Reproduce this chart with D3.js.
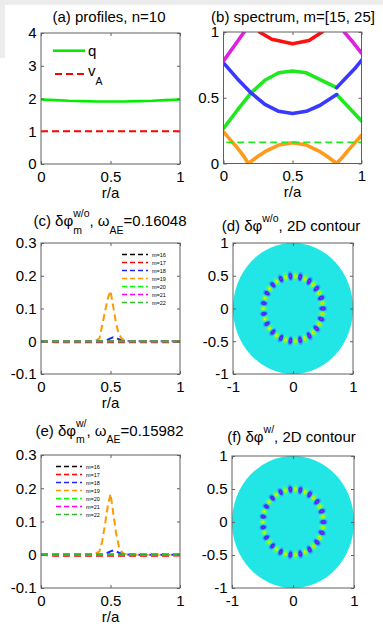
<!DOCTYPE html>
<html>
<head>
<meta charset="utf-8">
<script src="https://cdn.jsdelivr.net/npm/d3@7"></script>
<style>
  body { margin: 0; background: #fff; }
  svg { display: block; }
</style>
</head>
<body>
<div id="chart"></div>
<script>
// ---------- data ----------

// (a) profiles
const profR = [0, 0.1, 0.2, 0.3, 0.4, 0.5, 0.6, 0.7, 0.8, 0.9, 1]
const qProfile = [1.97, 1.95, 1.93, 1.92, 1.91, 1.91, 1.91, 1.92, 1.93, 1.95, 1.97]
const vaR = [0, 1]
const vaProfile = [1, 1]

// (b) continuum branches
const orangeR = [0, 0.05, 0.1, 0.15, 0.18, 0.25, 0.3, 0.4, 0.5, 0.6, 0.7, 0.75, 0.82, 0.86, 0.9, 0.95, 1]
const orangeW = [0.24, 0.18, 0.12, 0.05, 0, 0.055, 0.09, 0.14, 0.158, 0.14, 0.09, 0.055, 0, 0.045, 0.096, 0.155, 0.215]
const blueAR = [0, 0.1, 0.2, 0.3, 0.4, 0.5, 0.6, 0.7, 0.82]
const blueAW = [0.765, 0.645, 0.537, 0.45, 0.397, 0.38, 0.397, 0.443, 0.524]
const blueBR = [0.82, 0.9, 0.95, 1]
const blueBW = [0.577, 0.665, 0.72, 0.785]
const greenAR = [0, 0.1, 0.2, 0.3, 0.4, 0.5, 0.6, 0.7, 0.82]
const greenAW = [0.266, 0.405, 0.537, 0.633, 0.69, 0.704, 0.69, 0.638, 0.577]
const greenBR = [0.82, 0.9, 1]
const greenBW = [0.524, 0.435, 0.324]
const magLR = [0, 0.075, 0.15]
const magLW = [0.78, 0.89, 1.0]
const magRR = [0.875, 0.94, 1]
const magRW = [1.0, 0.92, 0.84]
const redR = [0.26, 0.35, 0.5, 0.62, 0.715]
const redW = [1.0, 0.945, 0.911, 0.935, 1.0]
const aeR = [0.02, 1]
const omegaAE = 0.16048

// (c)-(f) poloidal harmonics
const modeNums = [16, 17, 18, 19, 20, 21, 22]
const modeNames = ["m=16", "m=17", "m=18", "m=19", "m=20", "m=21", "m=22"]
const modeR = [0, 0.1, 0.2, 0.3, 0.38, 0.42, 0.44, 0.46, 0.48, 0.5, 0.52, 0.54, 0.56, 0.58, 0.6, 0.64, 0.7, 0.8, 0.9, 1]
const zeroMode = [0, 0, 0, 0, 0, 0, 0, 0, 0, 0, 0, 0, 0, 0, 0, 0, 0, 0, 0, 0]
const phi17 = [0, -0.003, -0.003, -0.003, -0.003, -0.003, -0.003, -0.003, -0.003, -0.003, -0.003, -0.003, -0.003, -0.003, -0.003, -0.003, -0.003, -0.003, -0.003, -0.002]
const phiWo18 = [0, 0, 0, 0, 0, 0, 0, 0.002, 0.005, 0.009, 0.012, 0.01, 0.006, 0.003, 0.001, 0, 0, 0, 0, 0]
const phiWo19 = [0, 0, 0, 0, 0, 0.008, 0.048, 0.09, 0.13, 0.154, 0.105, 0.055, 0.022, 0.008, 0.002, 0, 0, 0, 0, 0]
const phiW18 = [0, 0, 0, 0, 0, 0, 0, 0.002, 0.006, 0.01, 0.013, 0.011, 0.006, 0.003, 0.001, 0, 0, 0, 0, 0]
const phiW19 = [0, 0, 0, 0, 0, 0.01, 0.04, 0.09, 0.145, 0.183, 0.125, 0.065, 0.025, 0.009, 0.002, 0, 0, 0, 0, 0]
const modesWo = [zeroMode, phi17, phiWo18, phiWo19, zeroMode, zeroMode, zeroMode]
const modesW = [zeroMode, phi17, phiW18, phiW19, zeroMode, zeroMode, zeroMode]

// ---------- styles ----------
const modeColors = ["#000000", "#ff0000", "#2222ff", "#ff9900", "#00ff00", "#ff00ff", "#33b833"]
const FONT = "'Liberation Sans', Arial, Helvetica, sans-serif"
const BOX = "#606060"

const svg = d3.select("#chart").append("svg")
    .attr("width", 383).attr("height", 626)
    .style("font-family", FONT)

// light grey frame of the screenshot
svg.append("rect").attr("x", 0).attr("y", 0).attr("width", 383).attr("height", 5).attr("fill", "#ececec")
svg.append("rect").attr("x", 0).attr("y", 0).attr("width", 5).attr("height", 58).attr("fill", "#ececec")

let clipCount = 0

function makePanel(box, xDom, yDom) {
    let x = d3.scaleLinear().domain(xDom).range([box.x0, box.x1])
    let y = d3.scaleLinear().domain(yDom).range([box.y1, box.y0])
    let id = "clip" + (clipCount++)
    svg.append("clipPath").attr("id", id).append("rect")
        .attr("x", box.x0).attr("y", box.y0)
        .attr("width", box.x1 - box.x0).attr("height", box.y1 - box.y0)
    let plot = svg.append("g").attr("clip-path", "url(#" + id + ")")
    return { x: x, y: y, plot: plot, box: box }
}

function styleAxis(g) {
    g.select(".domain").remove()
    g.selectAll("line").attr("stroke", BOX)
    g.selectAll("text").attr("font-size", 15).attr("font-family", FONT).attr("fill", "#000")
    g.attr("font-family", null).attr("font-size", null)
}

function finishPanel(p, xTicks, yTicks, xLabel) {
    let b = p.box
    let fmt = function (d) { return String(d) }
    svg.append("g").attr("transform", "translate(0," + b.y1 + ")")
        .call(d3.axisBottom(p.x).tickValues(xTicks).tickSizeInner(-3).tickSizeOuter(0).tickPadding(7).tickFormat(fmt))
        .call(styleAxis)
    svg.append("g").attr("transform", "translate(0," + b.y0 + ")")
        .call(d3.axisTop(p.x).tickValues(xTicks).tickSizeInner(-3).tickSizeOuter(0).tickFormat(""))
        .call(styleAxis)
    svg.append("g").attr("transform", "translate(" + b.x0 + ",0)")
        .call(d3.axisLeft(p.y).tickValues(yTicks).tickSizeInner(-3).tickSizeOuter(0).tickPadding(4.5).tickFormat(fmt))
        .call(styleAxis)
    svg.append("g").attr("transform", "translate(" + b.x1 + ",0)")
        .call(d3.axisRight(p.y).tickValues(yTicks).tickSizeInner(-3).tickSizeOuter(0).tickFormat(""))
        .call(styleAxis)
    svg.append("rect")
        .attr("x", b.x0).attr("y", b.y0)
        .attr("width", b.x1 - b.x0).attr("height", b.y1 - b.y0)
        .attr("fill", "none").attr("stroke", BOX).attr("stroke-width", 1)
    if (xLabel) {
        svg.append("text")
            .attr("x", (b.x0 + b.x1) / 2).attr("y", b.y1 + 33.5)
            .attr("text-anchor", "middle").attr("font-size", 15)
            .text(xLabel)
    }
}

// text with TeX-like super/subscripts; a "sub" with stack:true sits under the previous "sup"
function richText(cx, yb, parts, anchorStart) {
    let g = svg.append("g")
    let xPos = 0, supX = 0, supW = 0
    parts.forEach(function (p) {
        let size = p.s ? 10.5 : 15
        let dy = p.s === "sup" ? -9 : (p.s === "sub" ? 7.5 : 0)
        let startX = (p.s === "sub" && p.stack) ? supX : xPos
        let t = g.append("text").attr("x", startX).attr("y", dy + (p.dy || 0))
            .attr("font-size", size).text(p.t)
        let w = t.node().getComputedTextLength()
        if (p.s === "sup") { supX = startX; supW = w; xPos = startX + w }
        else if (p.stack) { xPos = Math.max(supX + supW, startX + w) }
        else { xPos = startX + w }
    })
    let left = anchorStart ? cx : cx - xPos / 2
    g.attr("transform", "translate(" + left + "," + yb + ")")
    return g
}

function lineOf(p, xs, ys) {
    return d3.line()
        .x(function (d, i) { return p.x(xs[i]) })
        .y(function (d) { return p.y(d) })(ys)
}

// ---------- (a) profiles ----------
let pa = makePanel({ x0: 41, x1: 180, y0: 33, y1: 164 }, [0, 1], [0, 4])
pa.plot.append("path").attr("d", lineOf(pa, vaR, vaProfile))
    .attr("fill", "none").attr("stroke", "#ff0000").attr("stroke-width", 2).attr("stroke-dasharray", "7,4")
pa.plot.append("path").attr("d", lineOf(pa, profR, qProfile))
    .attr("fill", "none").attr("stroke", "#00ee00").attr("stroke-width", 2.6)
finishPanel(pa, [0, 0.5, 1], [0, 1, 2, 3, 4], "r/a")
richText(109, 21.5, [{ t: "(a) profiles, n=10" }])
svg.append("line").attr("x1", 53).attr("x2", 85).attr("y1", 50.7).attr("y2", 50.7)
    .attr("stroke", "#00ee00").attr("stroke-width", 2.6)
richText(88, 56, [{ t: "q" }], true)
svg.append("line").attr("x1", 55).attr("x2", 85).attr("y1", 74).attr("y2", 74)
    .attr("stroke", "#ff0000").attr("stroke-width", 2).attr("stroke-dasharray", "7,4")
richText(88, 76, [{ t: "v" }, { t: "A", s: "sub", dy: 1 }], true)

// ---------- (b) spectrum ----------
let pb = makePanel({ x0: 223.5, x1: 361.5, y0: 32, y1: 163.5 }, [0, 1], [0, 1])
const branches = [
    [orangeR, orangeW, "#ff9b1a"],
    [greenAR, greenAW, "#1ee81e"],
    [greenBR, greenBW, "#1ee81e"],
    [blueAR, blueAW, "#3838ff"],
    [blueBR, blueBW, "#3838ff"],
    [magLR, magLW, "#e020e0"],
    [magRR, magRW, "#e020e0"],
    [redR, redW, "#ff1010"]
]
branches.forEach(function (br) {
    pb.plot.append("path").attr("d", lineOf(pb, br[0], br[1]))
        .attr("fill", "none").attr("stroke", br[2]).attr("stroke-width", 3.6)
        .attr("stroke-linecap", "round").attr("stroke-linejoin", "round")
})
pb.plot.append("path").attr("d", lineOf(pb, aeR, [omegaAE, omegaAE]))
    .attr("fill", "none").attr("stroke", "#22e822").attr("stroke-width", 1.8).attr("stroke-dasharray", "7,4")
finishPanel(pb, [0, 0.5, 1], [0, 0.5, 1], "r/a")
richText(293, 21.5, [{ t: "(b) spectrum, m=[15, 25]" }])

// ---------- (c), (e) harmonics ----------
function harmonicPanel(box, modes, legendX, legendY) {
    let p = makePanel(box, [0, 1], [-0.1, 0.3])
    modes.forEach(function (vals, i) {
        p.plot.append("path").attr("d", lineOf(p, modeR, vals))
            .attr("fill", "none").attr("stroke", modeColors[i]).attr("stroke-width", 2)
            .attr("stroke-dasharray", "7,4")
    })
    finishPanel(p, [0, 0.5, 1], [-0.1, 0, 0.1, 0.2, 0.3], "r/a")
    modeNames.forEach(function (name, i) {
        let yy = legendY + i * 8
        svg.append("line").attr("x1", legendX).attr("x2", legendX + 26).attr("y1", yy).attr("y2", yy)
            .attr("stroke", modeColors[i]).attr("stroke-width", 1.4).attr("stroke-dasharray", "5,3")
        svg.append("text").attr("x", legendX + 30).attr("y", yy + 2)
            .attr("font-size", 5.5).text(name)
    })
    return p
}
harmonicPanel({ x0: 41, x1: 180, y0: 243, y1: 374 }, modesWo, 122, 254.5)
richText(110, 226, [{ t: "(c) δφ" }, { t: "w/o", s: "sup" }, { t: "m", s: "sub", stack: true },
    { t: ", ω" }, { t: "AE", s: "sub" }, { t: "=0.16048" }])
harmonicPanel({ x0: 41, x1: 180, y0: 455, y1: 588 }, modesW, 56, 466.5)
richText(109.5, 435.5, [{ t: "(e) δφ" }, { t: "w/", s: "sup" }, { t: "m", s: "sub", stack: true },
    { t: ", ω" }, { t: "AE", s: "sub" }, { t: "=0.15982" }])

// ---------- (d), (f) 2D contours ----------
const contourLevels = [0.1, 0.3, 0.5, 0.7, 0.88]
const posFill = ["#40eeb4", "#40ff50", "#88ff30", "#e4f200", "#ff9000"]
const negFill = ["#34a8ff", "#2a55ff", "#3a22f2", "#8a22e8", "#d020d8"]

function contourPanel(box, modes) {
    let p = makePanel(box, [-1, 1], [-1, 1])
    let profiles = modes.map(function (vals) {
        return d3.scaleLinear().domain(modeR).range(vals).clamp(true)
    })
    let n = 201
    let field = new Float64Array(n * n)
    let maxAbs = 0
    for (let j = 0; j < n; j++) {
        for (let i = 0; i < n; i++) {
            let xx = -1 + 2 * (i + 0.5) / n
            let yy = 1 - 2 * (j + 0.5) / n
            let r = Math.sqrt(xx * xx + yy * yy)
            let v = 0
            if (r <= 1) {
                let th = Math.atan2(yy, xx)
                modeNums.forEach(function (m, k) { v -= profiles[k](r) * Math.cos(m * th) })
            }
            field[j * n + i] = v
            maxAbs = Math.max(maxAbs, Math.abs(v))
        }
    }
    // cyan disk r <= 1
    p.plot.append("ellipse")
        .attr("cx", p.x(0)).attr("cy", p.y(0))
        .attr("rx", p.x(1) - p.x(0)).attr("ry", p.y(0) - p.y(1))
        .attr("fill", "#22e6e6")
    let path = d3.geoPath(d3.geoTransform({
        point: function (gx, gy) { this.stream.point(p.x(-1 + 2 * gx / n), p.y(1 - 2 * gy / n)) }
    }))
    let pos = Array.from(field, function (v) { return v / maxAbs })
    let neg = pos.map(function (v) { return -v })
    let gen = d3.contours().size([n, n]).thresholds(contourLevels)
    gen(pos).forEach(function (c, k) {
        p.plot.append("path").attr("d", path(c)).attr("fill", posFill[k]).attr("fill-rule", "evenodd")
    })
    gen(neg).forEach(function (c, k) {
        p.plot.append("path").attr("d", path(c)).attr("fill", negFill[k]).attr("fill-rule", "evenodd")
    })
    finishPanel(p, [-1, 0, 1], [-1, -0.5, 0, 0.5, 1], null)
    return p
}
contourPanel({ x0: 233, x1: 353, y0: 243, y1: 374 }, modesWo)
richText(291, 231, [{ t: "(d) δφ" }, { t: "w/o", s: "sup" }, { t: ", 2D contour" }])
contourPanel({ x0: 232, x1: 354, y0: 456, y1: 588 }, modesW)
richText(291.5, 442, [{ t: "(f) δφ" }, { t: "w/", s: "sup" }, { t: ", 2D contour" }])
</script>
</body>
</html>
